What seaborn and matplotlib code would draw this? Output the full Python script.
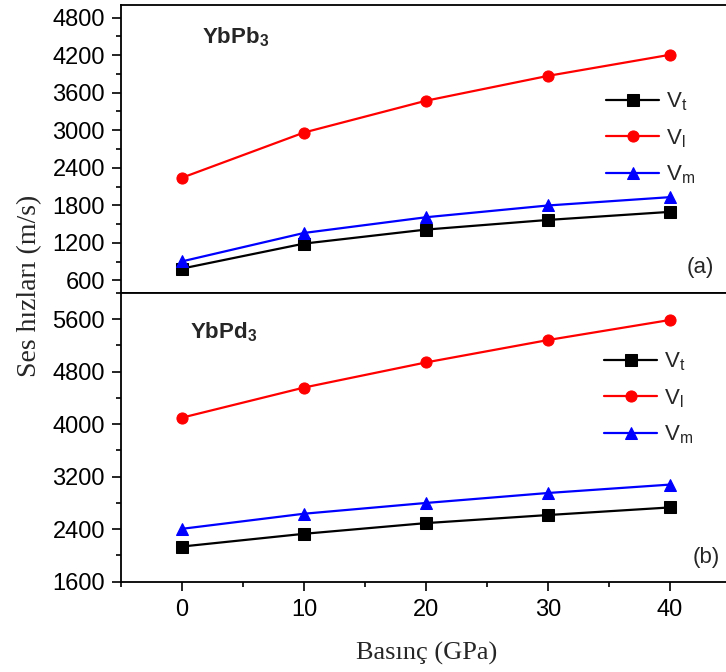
import matplotlib
matplotlib.use("Agg")
import matplotlib.pyplot as plt
import seaborn as sns
import pandas as pd
from matplotlib.ticker import MultipleLocator

sns.set_theme(style="white")
plt.rcParams["font.family"] = ["Liberation Sans", "DejaVu Sans"]
plt.rcParams["mathtext.fontset"] = "custom"
plt.rcParams["mathtext.rm"] = "Liberation Sans"
plt.rcParams["mathtext.bf"] = "Liberation Sans:bold"

pressure = [0, 10, 20, 30, 40]

# YbPb3 sound velocities (m/s)
pb_vt = [790, 1189, 1413, 1567, 1696]
pb_vl = [2241, 2963, 3471, 3868, 4205]
pb_vm = [905, 1359, 1610, 1798, 1931]

# YbPd3 sound velocities (m/s)
pd_vt = [2136, 2330, 2493, 2616, 2732]
pd_vl = [4100, 4559, 4942, 5283, 5589]
pd_vm = [2406, 2636, 2800, 2952, 3080]

series_labels = [r"V$_\mathrm{t}$", r"V$_\mathrm{l}$", r"V$_\mathrm{m}$"]
colors = ["black", "#ff0000", "#0000ff"]
markers = ["s", "o", "^"]

fig = plt.figure(figsize=(7.26, 6.72), dpi=100)
W, H = 726, 672
left, right = 121 / W, 731 / W
ax_top = fig.add_axes([left, 1 - 293 / H, right - left, (293 - 5) / H])
ax_bot = fig.add_axes([left, 1 - 581.7 / H, right - left, (581.7 - 293) / H])


def draw_panel(ax, vt, vl, vm, legend_anchor):
    for vals, lab, col, mk in zip([vt, vl, vm], series_labels, colors, markers):
        df = pd.DataFrame({"P": pressure, "v": vals})
        sns.lineplot(data=df, x="P", y="v", ax=ax, color=col, marker=mk,
                     markersize=8, markeredgecolor=col, linewidth=1.6,
                     label=lab)
    ax.set_xlim(-5, 45)
    ax.set_xlabel("")
    ax.set_ylabel("")
    for s in ax.spines.values():
        s.set_linewidth(1.3)
        s.set_color("black")
    ax.xaxis.set_major_locator(MultipleLocator(10))
    ax.xaxis.set_minor_locator(MultipleLocator(5))
    ax.tick_params(axis="both", which="both", direction="out", color="black",
                   labelsize=17, labelcolor="black",
                   left=True, bottom=True, top=False, right=False)
    ax.tick_params(which="major", length=6.5, width=1.2)
    ax.tick_params(which="minor", length=3.5, width=1.2)
    ax.tick_params(axis="y", which="major", pad=5)
    ax.tick_params(axis="x", which="major", pad=6)
    ax.legend(loc="center left", bbox_to_anchor=legend_anchor,
              frameon=False, fontsize=16, handlelength=2.4,
              labelspacing=0.62, handletextpad=0.3, borderaxespad=0,
              borderpad=0)


draw_panel(ax_top, pb_vt, pb_vl, pb_vm, (0.795, 0.537))
ax_top.set_ylim(400, 5000)
ax_top.yaxis.set_major_locator(MultipleLocator(600))
ax_top.yaxis.set_minor_locator(MultipleLocator(300))
ax_top.tick_params(axis="x", which="both", bottom=False, labelbottom=False)
ax_top.text((202 - 121) / 610, (293 - 37) / 288, r"YbPb$_\mathbf{3}$",
            transform=ax_top.transAxes, fontsize=16, fontweight="bold",
            ha="left", va="center")
ax_top.text((700 - 121) / 610, (293 - 268) / 288, "(a)",
            transform=ax_top.transAxes, fontsize=16, ha="center", va="center")

draw_panel(ax_bot, pd_vt, pd_vl, pd_vm, (0.792, 0.635))
ax_bot.set_ylim(1600, 6000)
ax_bot.yaxis.set_major_locator(MultipleLocator(800))
ax_bot.yaxis.set_minor_locator(MultipleLocator(400))
ax_bot.text((190 - 121) / 610, (581.7 - 332) / 288.7, r"YbPd$_\mathbf{3}$",
            transform=ax_bot.transAxes, fontsize=16, fontweight="bold",
            ha="left", va="center")
ax_bot.text((706 - 121) / 610, (581.7 - 558) / 288.7, "(b)",
            transform=ax_bot.transAxes, fontsize=16, ha="center", va="center")
ax_bot.set_xticks(pressure)

fig.text(30 / W, 1 - 286 / H, "Ses hızları (m/s)", rotation=90, ha="center",
         va="center", fontsize=20, family=["Liberation Serif", "DejaVu Serif"])
fig.text(427 / W, 1 - 653 / H, "Basınç (GPa)", ha="center", va="center",
         fontsize=19, family=["Liberation Serif", "DejaVu Serif"])

fig.savefig("out.png", dpi=100)
